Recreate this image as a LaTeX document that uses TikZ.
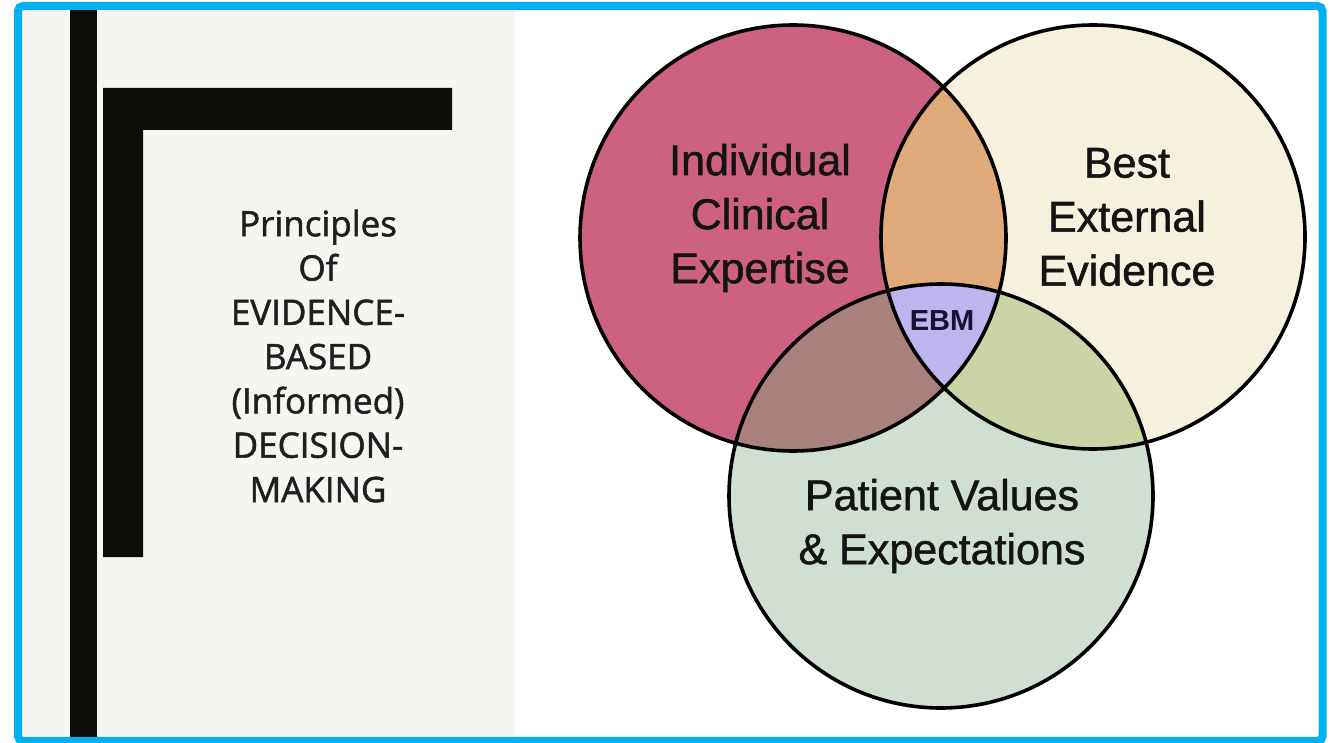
\documentclass[tikz,border=0pt]{standalone}
\usepackage{fontspec}
\setmainfont{Liberation Sans}
\newfontfamily\leftfont[FakeBold=1.5]{Open Sans}
\newfontfamily\lblfont[FakeBold=1.2]{Liberation Sans}
\definecolor{frameblue}{RGB}{0,176,240}
\definecolor{panelgrey}{RGB}{246,245,241}
\definecolor{barblack}{RGB}{12,12,8}
\definecolor{rose}{RGB}{205,97,128}
\definecolor{cream}{RGB}{246,240,222}
\definecolor{sage}{RGB}{209,222,210}
\definecolor{orangeov}{RGB}{225,170,122}
\definecolor{brownov}{RGB}{168,128,124}
\definecolor{oliveov}{RGB}{203,212,165}
\definecolor{lavender}{RGB}{190,180,238}
\definecolor{navy}{RGB}{20,20,50}
\tikzset{
  venn/.style={draw=black, line width=3.6pt},
  lbl/.style={align=center, text=black!92, font=\lblfont\fontsize{43}{54}\selectfont},
}
\begin{document}
\begin{tikzpicture}[x=1pt,y=-1pt]
\useasboundingbox (0,0) rectangle (1332,743);
\fill[white] (0,0) rectangle (1332,743);
% left panel
\fill[panelgrey] (22,10) rectangle (515,738);
% bars
\fill[barblack] (70,10) rectangle (97,738);
\fill[barblack] (103,88) -- (452,88) -- (452,130) -- (143,130) -- (143,557) -- (103,557) -- cycle;
% left text
\node[align=center, text=black!88, font=\leftfont\fontsize{35}{44.3}\selectfont] (title) at (318,356)
  {Principles\\Of\\EVIDENCE-\\BASED\\(Informed)\\DECISION-\\MAKING};
% circle centres
\coordinate (cr) at (793,238);
\coordinate (cc) at (1093,237);
\coordinate (cg) at (941,496);
% base fills
\fill[rose] (cr) circle (213pt);
\fill[cream] (cc) circle (212pt);
\fill[sage] (cg) circle (212pt);
% pair overlaps
\begin{scope}
  \clip (cr) circle (213pt);
  \fill[orangeov] (cc) circle (212pt);
  \fill[brownov] (cg) circle (212pt);
\end{scope}
\begin{scope}
  \clip (cc) circle (212pt);
  \fill[oliveov] (cg) circle (212pt);
\end{scope}
\begin{scope}
  \clip (cr) circle (213pt);
  \clip (cc) circle (212pt);
  \fill[lavender] (cg) circle (212pt);
\end{scope}
% outlines
\draw[venn] (cr) circle (213pt);
\draw[venn] (cc) circle (212pt);
\draw[venn] (cg) circle (212pt);
% labels
\node[lbl] (ice) at (760,218) {Individual\\Clinical\\Expertise};
\node[lbl] (bee) at (1127,217) {Best\\External\\Evidence};
\node[lbl] (pve) at (942,526) {Patient Values\\\& Expectations};
\node[text=navy, font=\bfseries\fontsize{29}{30}\selectfont] (ebm) at (942,321) {EBM};
% frame
\draw[frameblue, line width=8pt, rounded corners=5pt] (18,6) rectangle (1322.5,741);
\end{tikzpicture}
\end{document}
